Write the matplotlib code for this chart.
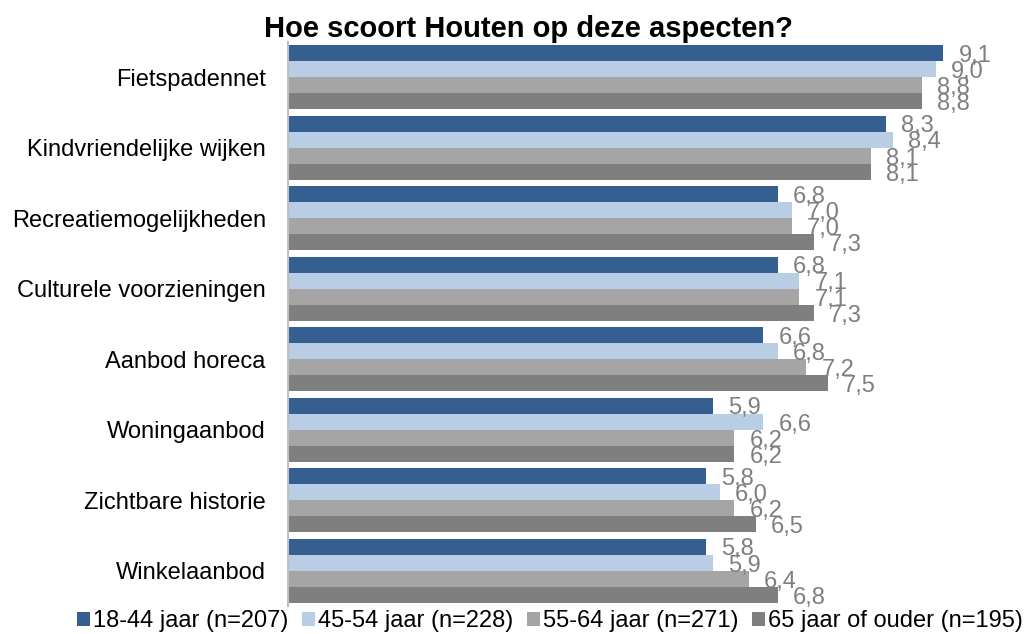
import matplotlib.pyplot as plt
import numpy as np

plt.rcParams['font.family'] = ['Liberation Sans', 'DejaVu Sans']

# categories (top to bottom) and scores per age group
categories = ['Fietspadennet', 'Kindvriendelijke wijken', 'Recreatiemogelijkheden',
              'Culturele voorzieningen', 'Aanbod horeca', 'Woningaanbod',
              'Zichtbare historie', 'Winkelaanbod']
series_names = ['18-44 jaar (n=207)', '45-54 jaar (n=228)',
                '55-64 jaar (n=271)', '65 jaar of ouder (n=195)']
age_18_44 = [9.1, 8.3, 6.8, 6.8, 6.6, 5.9, 5.8, 5.8]
age_45_54 = [9.0, 8.4, 7.0, 7.1, 6.8, 6.6, 6.0, 5.9]
age_55_64 = [8.8, 8.1, 7.0, 7.1, 7.2, 6.2, 6.2, 6.4]
age_65_up = [8.8, 8.1, 7.3, 7.3, 7.5, 6.2, 6.5, 6.8]
colors = ['#355F91', '#B9CDE5', '#A5A5A5', '#7F7F7F']

fig = plt.figure(figsize=(10.3, 6.34), dpi=100)
ax = fig.add_axes([0.2796, 0.0442, 0.699, 0.8896])

series = [age_18_44, age_45_54, age_55_64, age_65_up]
n = len(categories)
y = np.arange(n)
bh = 0.227

for i, (vals, name, c) in enumerate(zip(series, series_names, colors)):
    pos = y - 1.5 * bh + i * bh
    bars = ax.barh(pos, vals, height=bh, color=c, label=name)
    for b, v in zip(bars, vals):
        ax.annotate(f'{v:.1f}'.replace('.', ','),
                    xy=(b.get_width(), b.get_y() + b.get_height() / 2),
                    xytext=(11, -2), textcoords='offset points',
                    ha='left', va='center', fontsize=17, color='#7F7F7F')

ax.set_xlim(0, 10)
ax.set_ylim(n - 0.5, -0.5)
ax.set_yticks(y)
ax.set_yticklabels(categories, fontsize=17)
ax.tick_params(axis='y', length=0, pad=16)
ax.set_xticks([])
for s in ['top', 'right', 'bottom']:
    ax.spines[s].set_visible(False)
ax.spines['left'].set_color('#BFBFBF')
ax.spines['left'].set_linewidth(1.5)

fig.text(528 / 1030, 0.955, 'Hoe scoort Houten op deze aspecten?',
         ha='center', va='center', fontsize=21, fontweight='bold')

fig.legend(loc='center', bbox_to_anchor=(550 / 1030, 0.02), ncol=4,
           frameon=False, fontsize=17, handlelength=0.55, handleheight=0.6,
           handletextpad=0.15, columnspacing=0.55, borderpad=0)

fig.savefig('out.png', dpi=100)
